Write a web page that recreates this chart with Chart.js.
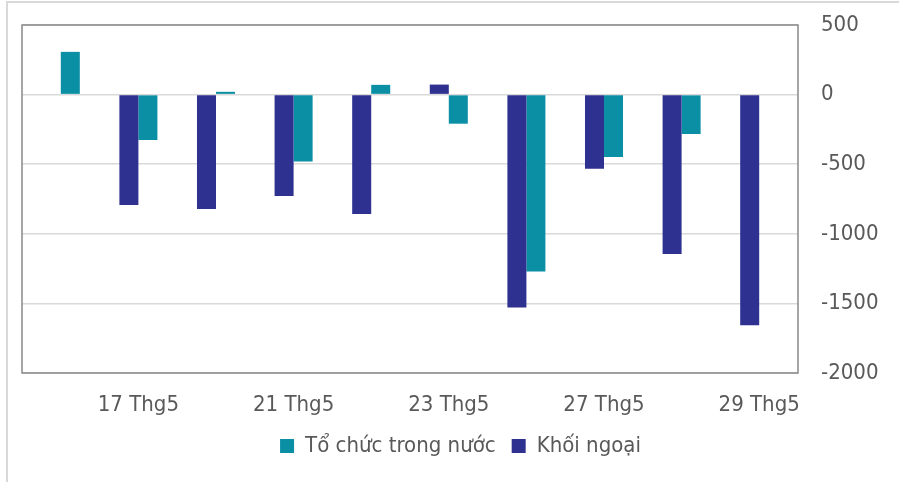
<!DOCTYPE html>
<html>
<head>
<meta charset="utf-8">
<script src="https://cdn.jsdelivr.net/npm/chart.js@4.4.1/dist/chart.umd.min.js"></script>
<style>
  html, body { margin: 0; padding: 0; background: #ffffff; }
  #wrap { position: relative; width: 899px; height: 482px; }
  #outline { position: absolute; left: 6px; top: 1px; right: 0; bottom: 0;
             border-left: 2px solid #d9d9d9; border-top: 2px solid #d9d9d9; }
  #box { position: absolute; left: 0; top: 0; width: 899px; height: 482px; }
</style>
</head>
<body>
<div id="wrap">
  <div id="outline"></div>
  <div id="box"><canvas id="c"></canvas></div>
</div>
<script>
// Categories (trading days, May)
const categories = ['16 Thg5', '17 Thg5', '20 Thg5', '21 Thg5', '22 Thg5',
                    '23 Thg5', '24 Thg5', '27 Thg5', '28 Thg5', '29 Thg5'];
// Net buy/sell values (billion VND)
const khoiNgoai = [0, -793, -822, -729, -858, 72, -1530, -532, -1146, -1657];
const toChucTrongNuoc = [307, -326, 20, -480, 70, -209, -1271, -448, -283, 0];
// Y axis ticks
const yTicks = [500, 0, -500, -1000, -1500, -2000];

const FONT = "'DejaVu Sans Condensed', 'DejaVu Sans', sans-serif";
const TEXT = '#595959';

const framePlugin = {
  id: 'frame',
  afterDraw(chart) {
    const a = chart.chartArea, ctx = chart.ctx;
    ctx.save();
    ctx.strokeStyle = '#898989';
    ctx.lineWidth = 1.5;
    ctx.strokeRect(a.left, a.top, a.right - a.left, a.bottom - a.top);
    ctx.restore();
  }
};

new Chart(document.getElementById('c'), {
  type: 'bar',
  data: {
    labels: categories,
    datasets: [
      { label: 'Khối ngoại', data: khoiNgoai, backgroundColor: '#2E3190',
        categoryPercentage: 0.49, barPercentage: 1.0 },
      { label: 'Tổ chức trong nước', data: toChucTrongNuoc, backgroundColor: '#0A8FA5',
        categoryPercentage: 0.49, barPercentage: 1.0 }
    ]
  },
  options: {
    responsive: true,
    maintainAspectRatio: false,
    animation: false,
    layout: { padding: { left: 22, top: 25, right: 0, bottom: 15 } },
    plugins: {
      tooltip: { enabled: false },
      legend: {
        position: 'bottom',
        reverse: true,
        labels: {
          font: { family: FONT, size: 22 },
          color: TEXT,
          boxWidth: 14,
          boxHeight: 14,
          padding: 16
        }
      }
    },
    scales: {
      x: {
        grid: { display: false, drawTicks: false, tickLength: 0 },
        border: { display: false },
        ticks: {
          autoSkip: false,
          maxRotation: 0,
          padding: 19,
          color: TEXT,
          font: { family: FONT, size: 22 },
          callback: function (v, i) { return i % 2 === 1 ? categories[i] : ''; }
        },
        afterFit(s) { s.height = 46; }
      },
      y: {
        position: 'right',
        min: Math.min(...yTicks),
        max: Math.max(...yTicks),
        afterBuildTicks(s) { s.ticks = yTicks.map(v => ({ value: v })); },
        grid: { color: '#d9d9d9', lineWidth: 1.5, drawTicks: true, tickLength: 23,
                tickColor: 'rgba(0,0,0,0)' },
        border: { display: false },
        ticks: {
          padding: 0,
          color: TEXT,
          font: { family: FONT, size: 22 },
          callback: function (v) { return String(v); }
        },
        afterFit(s) { s.width = 101; }
      }
    }
  },
  plugins: [framePlugin]
});
</script>
</body>
</html>
